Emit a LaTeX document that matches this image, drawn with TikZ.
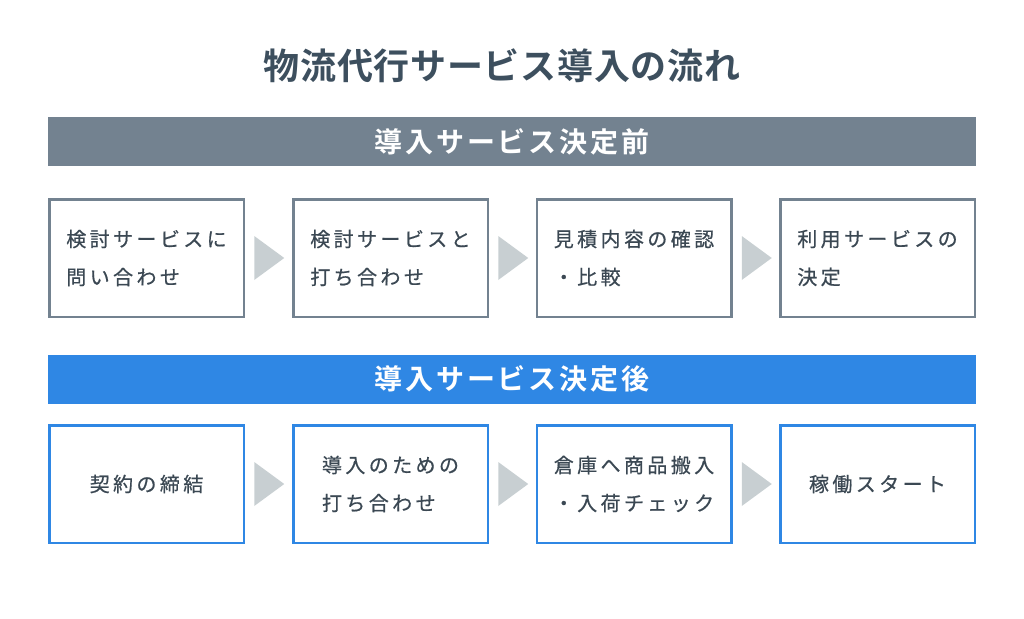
\documentclass[tikz,border=0pt]{standalone}
\usepackage{fontspec}
\usetikzlibrary{calc}
\newfontfamily\titlefont[LetterSpace=2]{Noto Sans CJK JP Bold}
\newfontfamily\barfont[LetterSpace=10]{Noto Sans CJK JP Bold}
\newfontfamily\boxfont[LetterSpace=17,FakeBold=0.6]{Noto Sans CJK JP}
\definecolor{titlec}{HTML}{3D4F5E}
\definecolor{textc}{HTML}{3B4853}
\definecolor{grayc}{HTML}{738290}
\definecolor{bluec}{HTML}{2F87E4}
\definecolor{arrowc}{HTML}{C8CFD2}
\tikzset{
  bar/.style={rectangle, inner sep=0pt, minimum width=928pt, minimum height=49pt, text=white, font=\barfont\fontsize{28}{30}\selectfont},
  stepbox/.style={rectangle, draw, line width=2.5pt, fill=white, inner sep=0pt, minimum width=194.5pt, minimum height=117.5pt, align=left, text=textc, font=\boxfont\fontsize{20}{38}\selectfont},
  graybox/.style={stepbox, draw=grayc},
  bluebox/.style={stepbox, draw=bluec},
  flowarrow/.style={fill=arrowc}
}
\begin{document}
\begin{tikzpicture}[x=1pt,y=-1pt]
\useasboundingbox (0,0) rectangle (1024,618);
\node[text=titlec, font=\titlefont\fontsize{36}{40}\selectfont] (title) at (502,66) {物流代行サービス導入の流れ};
\node[bar, fill=grayc] (bar1) at (512,141.5) {導入サービス決定前};
\node[graybox] (a1) at (146.5,258) {検討サービスに\\問い合わせ};
\node[graybox] (a2) at (390.5,258) {検討サービスと\\打ち合わせ};
\node[graybox] (a3) at (634,258) {見積内容の確認\\・比較};
\node[graybox] (a4) at (877.5,258) {利用サービスの\\決定};
\node[bar, fill=bluec] (bar2) at (512,379) {導入サービス決定後};
\node[bluebox] (b1) at (146.5,484) {契約の締結};
\node[bluebox] (b2) at (390.5,484) {導入のための\\打ち合わせ};
\node[bluebox] (b3) at (634,484) {倉庫へ商品搬入\\・入荷チェック};
\node[bluebox] (b4) at (877.5,484) {稼働スタート};
\foreach \s in {a1,a2,a3,b1,b2,b3}{
  \fill[flowarrow] ($(\s.east)+(9.25,-22)$) -- ($(\s.east)+(9.25,22)$) -- ($(\s.east)+(39.25,0)$) -- cycle;
}
\end{tikzpicture}
\end{document}
